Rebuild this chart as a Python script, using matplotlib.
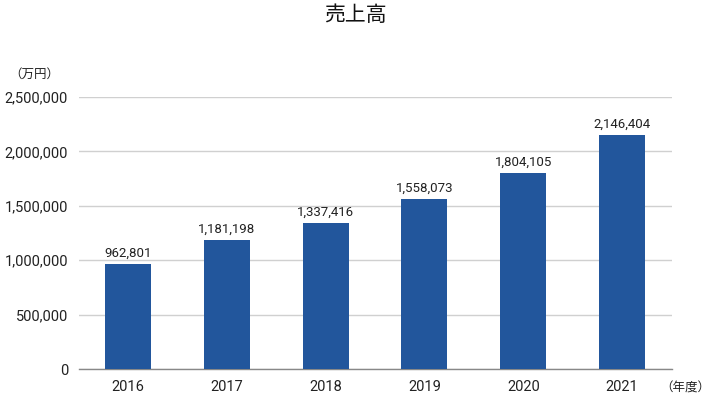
import matplotlib
matplotlib.use("Agg")
import matplotlib.pyplot as plt
from matplotlib.ticker import FuncFormatter

plt.rcParams['font.family'] = ['Roboto', 'Noto Sans CJK JP', 'DejaVu Sans']

years = ["2016", "2017", "2018", "2019", "2020", "2021"]
sales = [962801, 1181198, 1337416, 1558073, 1804105, 2146404]
yticks = [0, 500000, 1000000, 1500000, 2000000, 2500000]

bar_color = "#22569C"
text_color = "#222222"

fig = plt.figure(figsize=(7.1, 3.95), dpi=100)
ax = fig.add_axes([0.1106, 0.0658, 0.8352, 0.6886])

x = range(len(years))
ax.bar(x, sales, width=0.465, color=bar_color, zorder=3)
for xi, v in zip(x, sales):
    ax.text(xi, v + 40000, f"{v:,}", ha="center", va="bottom", fontsize=9.5, color=text_color)

ax.set_xlim(-0.5, len(years) - 0.5)
ax.set_ylim(0, 2500000)
ax.set_yticks(yticks)
ax.yaxis.set_major_formatter(FuncFormatter(lambda v, p: f"{int(v):,}"))
ax.set_xticks(list(x))
ax.set_xticklabels(years)
ax.grid(axis="y", color="#d0d0d0", linewidth=1, zorder=0)
for s in ["top", "right", "left"]:
    ax.spines[s].set_visible(False)
ax.spines["bottom"].set_color("#888888")
ax.spines["bottom"].set_linewidth(1)
ax.tick_params(axis="both", length=0, labelsize=10.5, colors=text_color)
ax.tick_params(axis="y", pad=7.5)
ax.tick_params(axis="x", pad=8)

fig.text(0.5, 0.962, "売上高", ha="center", va="center", fontsize=15,
         family=['Noto Sans CJK JP', 'DejaVu Sans'], color="#111111")
fig.text(0.048, 0.812, "（万円）", ha="center", va="center", fontsize=9,
         family=['Noto Sans CJK JP', 'DejaVu Sans'], color=text_color)
fig.text(0.965, 0.018, "（年度）", ha="center", va="center", fontsize=9,
         family=['Noto Sans CJK JP', 'DejaVu Sans'], color=text_color)

fig.savefig("out.png", dpi=100)
